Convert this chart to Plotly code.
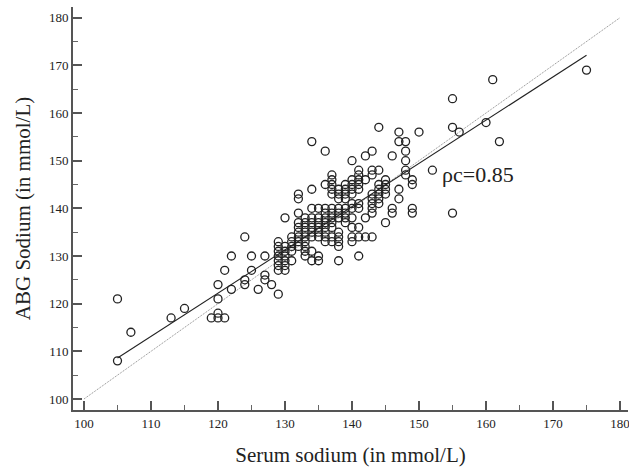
import plotly.graph_objects as go

# Serum sodium (x) and ABG sodium (y), grouped by column
left_x = [105, 107, 105, 113, 115, 119, 120, 121, 120, 120, 120, 121, 122, 122,
          124, 124, 124, 125, 125, 126, 127, 127, 127, 128, 129]
left_y = [121, 114, 108, 117, 119, 117, 117, 117, 118, 121, 124, 127, 123, 130,
          125, 124, 134, 127, 130, 123, 126, 125, 130, 124, 122]

columns = {
    129: [133, 132, 131, 130, 129, 128, 127],
    130: [138, 132, 131, 130, 129, 128, 127],
    131: [134, 133, 132, 131, 129],
    132: [143, 142, 139, 137, 136, 135, 134, 133, 132],
    133: [138, 137, 136, 135, 134, 133, 132, 131, 130],
    134: [154, 144, 140, 138, 137, 136, 135, 134, 131, 129],
    135: [140, 138, 137, 136, 135, 134, 130, 129],
    136: [152, 145, 140, 139, 138, 137, 136, 135, 134, 133],
    137: [147, 146, 145, 144, 143, 140, 139, 138, 137, 136, 134, 133],
    138: [144, 143, 142, 140, 139, 138, 135, 134, 133, 132, 129],
    139: [145, 144, 143, 142, 140, 139, 138, 137],
    140: [150, 146, 145, 144, 143, 141, 140, 138, 136, 134, 133],
    141: [148, 147, 146, 145, 144, 141, 140, 136, 134, 130],
    142: [151, 146, 138, 134],
    143: [152, 148, 147, 143, 142, 141, 140, 139, 134],
    144: [157, 148, 145, 144, 143, 142, 141],
    145: [146, 145, 144, 143, 137],
    146: [151, 140, 139],
    147: [156, 154, 144, 142],
    148: [154, 152, 150, 148, 147],
    149: [146, 145, 140, 139],
    150: [156],
    152: [148],
    155: [163, 157, 139],
    156: [156],
    160: [158],
    161: [167],
    162: [154],
    175: [169],
}

serum = list(left_x)
abg = list(left_y)
for cx, ys in columns.items():
    for yv in ys:
        serum.append(cx)
        abg.append(yv)

# Regression line end points and identity line
reg_x = [105, 175]
reg_y = [108.6, 172.1]
ident = [100, 180]

tick_vals = [100, 110, 120, 130, 140, 150, 160, 170, 180]
rho_label = "ρc=0.85"

SERIF = "Liberation Serif, Times New Roman, serif"

fig = go.Figure()
fig.add_trace(go.Scatter(x=ident, y=ident, mode="lines",
                         line=dict(color="#888", width=1, dash="1px,1px"),
                         hoverinfo="skip", showlegend=False))
fig.add_trace(go.Scatter(x=reg_x, y=reg_y, mode="lines",
                         line=dict(color="#222", width=1.1),
                         hoverinfo="skip", showlegend=False))
fig.add_trace(go.Scatter(x=serum, y=abg, mode="markers",
                         marker=dict(symbol="circle-open", size=8, color="#222",
                                     line=dict(width=1.3, color="#222")),
                         showlegend=False))

axis_common = dict(
    showgrid=False, zeroline=False, showline=True, linecolor="#555", linewidth=2,
    ticks="inside", ticklen=9, tickwidth=2, tickcolor="#555",
    tickvals=tick_vals, tickfont=dict(family=SERIF, size=13, color="#222"),
    ticklabeloverflow="allow",
    minor=dict(ticks="inside", ticklen=5, tickwidth=1, tickcolor="#666", dtick=5,
               showgrid=False),
)

fig.update_layout(
    width=629, height=468,
    margin=dict(l=73, r=1, t=7, b=58, autoexpand=False),
    paper_bgcolor="white", plot_bgcolor="white",
    xaxis=dict(range=[98.36, 181.19], automargin=False,
               title=dict(text="Serum sodium (in mmol/L)",
                          font=dict(family=SERIF, size=21, color="#222"), standoff=18),
               **axis_common),
    yaxis=dict(range=[97.69, 182.24], automargin=False,
               title=dict(text="ABG Sodium (in mmol/L)",
                          font=dict(family=SERIF, size=21, color="#222"), standoff=13),
               **axis_common),
    annotations=[dict(x=153.1, y=147, xref="x", yref="y", text=rho_label,
                      showarrow=False, xanchor="left", yanchor="middle",
                      font=dict(family=SERIF, size=22, color="#222"))],
)

fig.write_html("out.html", config={"displayModeBar": False},
               post_script="document.body.style.margin='0';document.body.style.padding='0';")
